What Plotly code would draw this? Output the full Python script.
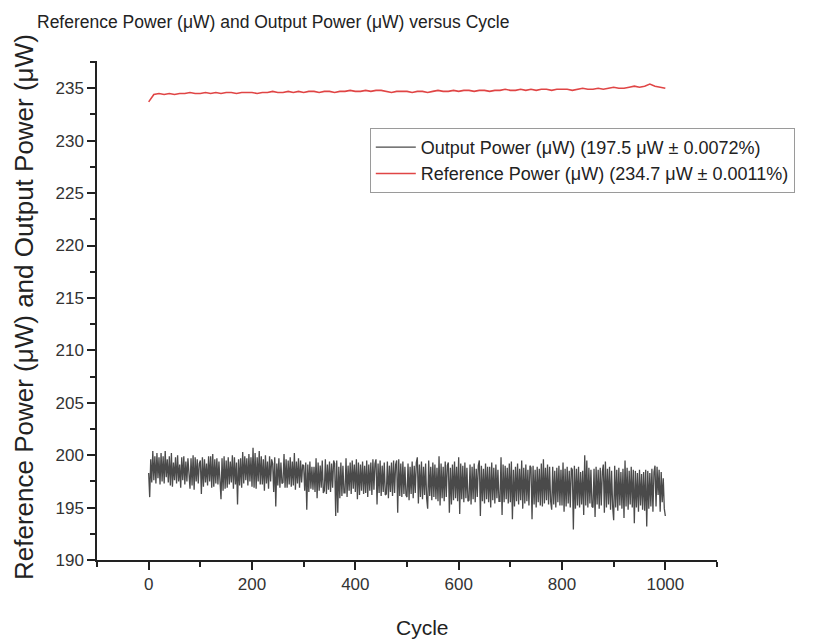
import plotly.graph_objects as go

# ---- data ----
out_cycles = list(range(0, 1001, 2))
output_power = [
    198.3, 196.0, 199.6, 197.4, 200.4, 197.6, 199.9, 197.3, 200.2, 197.8,
    199.8, 197.2, 200.2, 197.5, 199.9, 197.3, 200.4, 197.9, 199.6, 197.4,
    199.9, 197.1, 200.2, 197.0, 199.3, 197.6, 199.8, 197.3, 200.0, 197.5,
    199.1, 196.9, 199.8, 197.6, 199.9, 197.2, 199.4, 197.5, 199.7, 197.8,
    196.8, 199.7, 197.1, 200.0, 196.7, 199.8, 197.5, 199.6, 197.3, 199.2,
    199.5, 196.3, 199.8, 197.0, 199.6, 197.4, 199.2, 197.1, 199.9, 197.5,
    199.9, 196.9, 200.1, 197.0, 199.6, 197.3, 199.7, 197.2, 199.4, 197.6,
    195.8, 199.7, 196.6, 199.9, 196.8, 199.5, 196.9, 199.8, 197.2, 199.4,
    197.4, 200.0, 196.8, 199.8, 197.2, 199.3, 195.3, 199.6, 197.1, 199.7,
    196.9, 200.3, 197.3, 199.9, 197.6, 199.7, 197.1, 200.1, 197.5, 199.8,
    197.0, 200.7, 196.9, 200.2, 196.8, 199.8, 197.5, 200.4, 197.2, 199.9,
    197.2, 199.6, 196.6, 200.0, 197.3, 199.4, 196.8, 199.9, 197.5, 199.6,
    199.2, 196.5, 199.8, 195.1, 199.2, 197.1, 199.7, 196.9, 199.3, 197.3,
    197.4, 200.1, 196.9, 199.6, 196.9, 199.5, 197.2, 199.8, 197.0, 199.4,
    197.1, 200.2, 196.7, 199.4, 197.3, 199.7, 196.9, 199.5, 197.4, 199.1,
    199.0, 196.6, 199.3, 194.8, 199.1, 196.5, 199.4, 196.8, 198.9, 196.7,
    198.9, 196.5, 199.7, 195.9, 199.3, 196.6, 199.0, 196.9, 199.5, 196.4,
    196.6, 199.6, 196.3, 199.1, 196.7, 199.4, 196.5, 199.2, 196.9, 199.5,
    199.2, 194.2, 199.5, 194.5, 198.9, 195.9, 199.3, 196.1, 199.0, 196.4,
    196.4, 199.7, 196.0, 199.0, 196.6, 199.3, 196.3, 199.5, 196.8, 199.1,
    196.5, 199.6, 195.8, 199.3, 196.2, 199.1, 196.6, 199.4, 196.3, 199.0,
    196.4, 199.5, 196.0, 199.1, 196.6, 199.3, 196.2, 199.6, 196.7, 199.2,
    199.6, 195.3, 199.2, 196.4, 199.5, 196.1, 199.0, 196.5, 199.3, 196.2,
    196.3, 199.4, 195.9, 199.0, 196.5, 199.3, 196.1, 199.5, 196.4, 199.1,
    199.5, 194.5, 199.6, 196.1, 199.2, 196.0, 199.4, 196.3, 198.9, 196.2,
    196.0, 199.2, 195.7, 198.9, 196.3, 199.4, 195.9, 199.0, 196.4, 199.3,
    199.8, 195.4, 199.1, 196.0, 199.4, 195.8, 198.9, 196.2, 199.2, 195.9,
    194.9, 199.5, 196.1, 198.9, 195.7, 199.3, 196.0, 199.1, 195.8, 198.8,
    195.6, 199.9, 195.2, 199.2, 195.9, 198.9, 195.6, 199.4, 196.0, 199.0,
    199.3, 194.5, 198.8, 195.3, 199.1, 195.7, 199.4, 195.9, 198.9, 195.6,
    199.8, 194.4, 199.2, 195.8, 199.0, 195.5, 199.3, 195.9, 198.8, 195.6,
    195.7, 199.1, 195.3, 198.9, 195.8, 199.2, 195.5, 198.7, 196.0, 199.0,
    199.5, 194.2, 199.0, 195.6, 198.7, 195.4, 199.2, 195.8, 198.9, 195.5,
    198.9, 195.0, 199.3, 195.7, 198.8, 195.4, 199.1, 195.9, 198.6, 195.6,
    195.6, 199.8, 194.3, 199.1, 195.5, 199.0, 195.8, 198.8, 195.4, 199.2,
    195.5, 199.4, 193.9, 198.6, 195.1, 198.9, 195.6, 199.2, 195.3, 198.7,
    195.7, 199.5, 194.9, 198.8, 195.4, 199.1, 195.6, 198.6, 195.2, 199.0,
    198.8, 193.9, 199.0, 195.3, 198.6, 195.0, 198.9, 195.5, 198.7, 195.2,
    199.2, 195.1, 199.6, 195.4, 198.8, 195.7, 199.1, 195.3, 198.9, 195.6,
    194.8, 198.9, 195.3, 198.5, 195.0, 198.8, 195.5, 199.0, 195.2, 198.6,
    195.2, 199.3, 194.6, 198.7, 195.1, 198.9, 195.4, 198.5, 195.0, 198.8,
    198.6, 192.9, 199.0, 194.9, 198.7, 195.2, 198.9, 195.0, 198.4, 195.3,
    198.5, 194.3, 200.0, 195.2, 199.5, 195.0, 198.8, 195.4, 198.6, 195.1,
    195.0, 198.7, 194.1, 198.9, 195.3, 198.6, 194.9, 198.8, 195.2, 198.4,
    199.1, 194.5, 199.4, 195.0, 198.7, 195.3, 198.9, 194.8, 198.5, 195.1,
    193.8, 199.0, 195.0, 198.6, 194.7, 198.8, 195.2, 198.4, 194.9, 198.7,
    194.0, 199.5, 195.1, 198.8, 194.8, 198.5, 195.3, 198.9, 195.0, 198.6,
    193.5, 198.5, 195.0, 198.3, 194.6, 198.6, 195.2, 198.2, 194.8, 198.4,
    194.7, 198.6, 193.2, 198.5, 194.9, 198.3, 195.1, 198.7, 194.6, 198.4,
    199.0, 195.1, 198.9, 196.2, 198.6, 194.6, 198.4, 195.5, 197.8, 194.9,
    194.2,
]

ref_cycles = list(range(0, 1001, 10))
reference_power = [
    233.7, 234.4, 234.5, 234.4, 234.5, 234.4, 234.5, 234.5, 234.6, 234.5,
    234.5, 234.6, 234.5, 234.6, 234.5, 234.6, 234.6, 234.5, 234.6, 234.6,
    234.6, 234.5, 234.6, 234.6, 234.7, 234.6, 234.6, 234.7, 234.6, 234.7,
    234.6, 234.7, 234.7, 234.6, 234.7, 234.7, 234.6, 234.7, 234.7, 234.8,
    234.7, 234.7, 234.8, 234.7, 234.8, 234.8, 234.7, 234.6, 234.7, 234.7,
    234.7, 234.6, 234.7, 234.7, 234.6, 234.7, 234.8, 234.7, 234.7, 234.8,
    234.7, 234.8, 234.8, 234.7, 234.8, 234.8, 234.7, 234.8, 234.8, 234.9,
    234.8, 234.8, 234.9, 234.8, 234.9, 234.8, 234.9, 234.9, 234.8, 234.9,
    234.9, 234.9, 234.8, 234.9, 235.0, 234.9, 234.9, 235.0, 234.9, 235.0,
    235.1, 235.0, 235.0, 235.1, 235.2, 235.1, 235.2, 235.4, 235.2, 235.1,
    235.0,
]

output_name = "Output Power (μW) (197.5 μW ± 0.0072%)"
reference_name = "Reference Power (μW) (234.7 μW ± 0.0011%)"
title_text = "Reference Power (μW) and Output Power (μW) versus Cycle"
x_title = "Cycle"
y_title = "Reference Power (μW) and Output Power (μW)"

FONT = "Arial, Liberation Sans, sans-serif"

W, H = 821, 635  # page body adds 8px margin
L, T = 89, 53
R, B = 112, 83
PW, PH = W - L - R, H - T - B

fig = go.Figure()
fig.add_trace(go.Scatter(
    x=out_cycles, y=output_power, mode="lines", name=output_name,
    line=dict(color="#4a4a4a", width=1.3),
))
fig.add_trace(go.Scatter(
    x=ref_cycles, y=reference_power, mode="lines", name=reference_name,
    line=dict(color="#e04545", width=1.6),
))

axis_common = dict(
    showline=True, linecolor="#222222", linewidth=1.5, mirror=False,
    ticks="outside", ticklen=8, tickwidth=1.5, tickcolor="#222222",
    showgrid=False, zeroline=False,
    tickfont=dict(family=FONT, size=17, color="#333333"),
)

fig.update_xaxes(
    range=[-100, 1100], tick0=0, dtick=200,
    minor=dict(ticks="outside", ticklen=5, tickwidth=1.5, tickcolor="#222222", dtick=100, tick0=0),
    **axis_common,
)
fig.update_yaxes(
    range=[190, 237.6], tick0=190, dtick=5,
    minor=dict(ticks="outside", ticklen=5, tickwidth=1.5, tickcolor="#222222", dtick=2.5, tick0=190),
    **axis_common,
)

fig.add_annotation(
    text=y_title, textangle=-90, showarrow=False,
    xref="paper", yref="paper",
    x=(16 - L) / PW, y=(H - B - 299) / PH, xanchor="center", yanchor="middle",
    font=dict(family=FONT, size=26, color="#222222"),
)
fig.add_annotation(
    text=x_title, showarrow=False,
    xref="paper", yref="paper",
    x=(414 - L) / PW, y=(H - B - 619) / PH, xanchor="center", yanchor="middle",
    font=dict(family=FONT, size=21, color="#222222"),
)

fig.update_layout(
    width=W, height=H,
    margin=dict(l=L, r=R, t=T, b=B, autoexpand=False),
    paper_bgcolor="white", plot_bgcolor="white",
    font=dict(family=FONT, color="#222222"),
    title=dict(text=title_text,
               x=29 / W, xanchor="left", xref="container",
               y=1 - 14 / H, yanchor="middle", yref="container",
               font=dict(family=FONT, size=17.5, color="#222222")),
    showlegend=True,
    legend=dict(x=0.44, y=0.866, xanchor="left", yanchor="top",
                bgcolor="white", bordercolor="#9a9a9a", borderwidth=1,
                font=dict(family=FONT, size=18, color="#222222"),
                tracegroupgap=0, itemwidth=40),
)

fig.write_html("out.html")
